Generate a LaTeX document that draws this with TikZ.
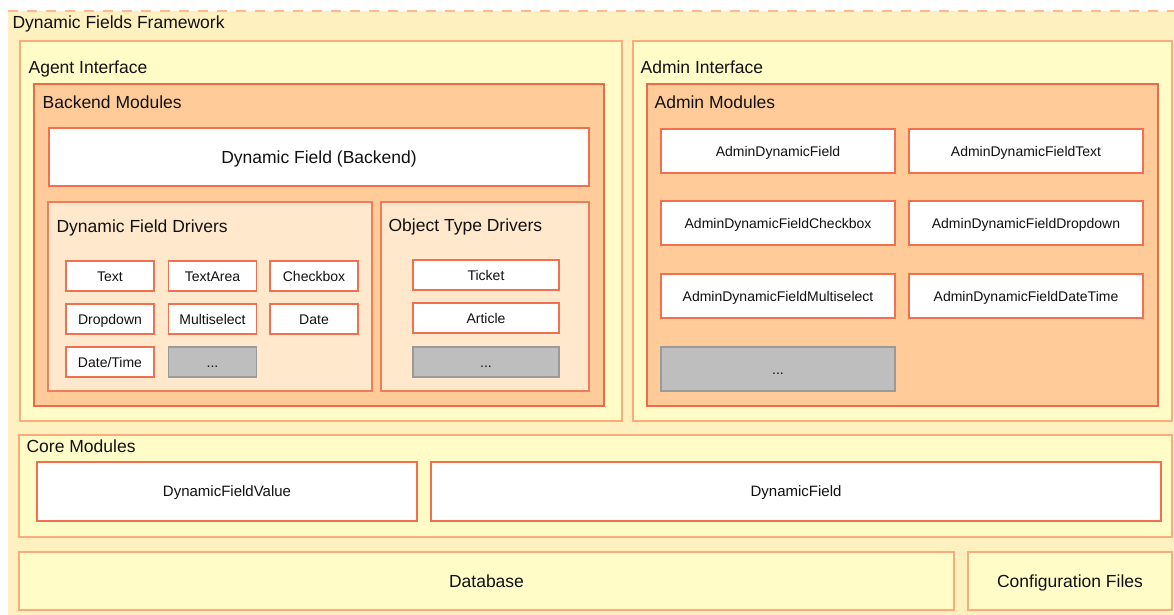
\documentclass[tikz,border=0pt]{standalone}
\usepackage{fontspec}
\setmainfont{Liberation Sans}
\definecolor{fwfill}{HTML}{FFF0C0}
\definecolor{fwline}{HTML}{FFB98C}
\definecolor{ifcfill}{HTML}{FFFCC8}
\definecolor{ifcline}{HTML}{FFAA7A}
\definecolor{modfill}{HTML}{FFCC99}
\definecolor{modline}{HTML}{F06A48}
\definecolor{drvfill}{HTML}{FFE8CC}
\definecolor{drvline}{HTML}{F07C5C}
\definecolor{cardline}{HTML}{F27050}
\definecolor{morefill}{HTML}{BEBEBE}
\definecolor{moreline}{HTML}{9A9A9A}
\definecolor{ink}{HTML}{111111}
\begin{document}
\begin{tikzpicture}[x=1pt,y=-1pt,line width=1.2pt,text=ink,
  heading/.style={anchor=west,inner sep=0pt,text height=12.6pt,text depth=0pt,font=\fontsize{17.5}{20}\selectfont},
  card/.style={draw=cardline,fill=white,inner sep=0pt,text height=10pt,text depth=0pt,font=\fontsize{14}{16}\selectfont},
  bigcard/.style={card,text height=12.6pt,font=\fontsize{17.5}{20}\selectfont},
  more/.style={card,draw=moreline,fill=morefill}]

\useasboundingbox (0,0) rectangle (1174,614);

% framework
\fill[fwfill] (8,11) rectangle (1180,620);
\draw[fwline,dash pattern=on 10pt off 9pt] (8,11) -- (1180,11);
\node[heading] (fw) at (12,22) {Dynamic Fields Framework};

% interfaces
\draw[ifcline,fill=ifcfill] (20,41) rectangle (622,421);
\draw[ifcline,fill=ifcfill] (633,41) rectangle (1172,421);
\node[heading] (agent) at (28,67) {Agent Interface};
\node[heading] (admin) at (640,67) {Admin Interface};

\draw[modline,fill=modfill] (34,84) rectangle (604,406);
\draw[modline,fill=modfill] (647,84) rectangle (1158,406);
\node[heading] (backend) at (42,102) {Backend Modules};
\node[heading] (adminmod) at (654,102) {Admin Modules};

\node[bigcard,minimum width=540,minimum height=58] (dfback) at (319,157) {Dynamic Field (Backend)};

\draw[drvline,fill=drvfill] (48,202) rectangle (372,391);
\draw[drvline,fill=drvfill] (381,202) rectangle (589,391);
\node[heading] (dfdrv) at (56,226) {Dynamic Field Drivers};
\node[heading] (otdrv) at (388,225) {Object Type Drivers};

\foreach \t/\x/\y [count=\i] in {Text/110/276,TextArea/212.5/276,Checkbox/314/276,
  Dropdown/110/319,Multiselect/212.5/319,Date/314/319,{Date/Time}/110/362}
  \node[card,minimum width=88,minimum height=30] (drv\i) at (\x,\y) {\t};
\node[more,minimum width=88,minimum height=30] (drvmore) at (212.5,362) {...};

\foreach \t/\y [count=\i] in {Ticket/275,Article/318}
  \node[card,minimum width=146,minimum height=30] (obj\i) at (486,\y) {\t};
\node[more,minimum width=146,minimum height=30] (objmore) at (486,362) {...};

\foreach \t/\x/\y [count=\i] in {AdminDynamicField/778/151,AdminDynamicFieldText/1026/151,
  AdminDynamicFieldCheckbox/778/223,AdminDynamicFieldDropdown/1026/223,
  AdminDynamicFieldMultiselect/778/296,AdminDynamicFieldDateTime/1026/296}
  \node[card,minimum width=234,minimum height=44] (adm\i) at (\x,\y) {\t};
\node[more,minimum width=234,minimum height=44] (admmore) at (778,369) {...};

% core
\draw[ifcline,fill=ifcfill] (19,435) rectangle (1172,537);
\node[heading] (core) at (26,446) {Core Modules};
\node[card,minimum width=380,minimum height=59,text height=10.8pt,font=\fontsize{15}{18}\selectfont] (dfvalue) at (227,491.5) {DynamicFieldValue};
\node[card,minimum width=730,minimum height=59,text height=10.8pt,font=\fontsize{15}{18}\selectfont] (dfcore) at (796,491.5) {DynamicField};

% storage
\node[draw=ifcline,fill=ifcfill,inner sep=0pt,minimum width=935,minimum height=58,text height=12.6pt,text depth=0pt,font=\fontsize{17.5}{20}\selectfont] (db) at (486.5,581) {Database};
\node[draw=ifcline,fill=ifcfill,inner sep=0pt,minimum width=204,minimum height=58,text height=12.6pt,text depth=0pt,font=\fontsize{17.5}{20}\selectfont] (conf) at (1070,581) {Configuration Files};
\end{tikzpicture}
\end{document}
